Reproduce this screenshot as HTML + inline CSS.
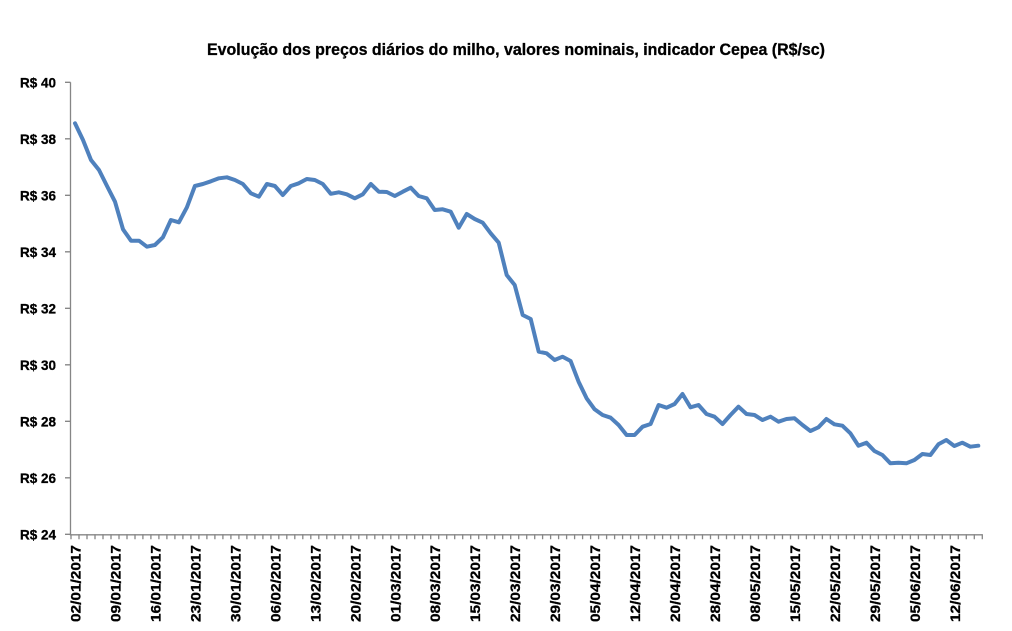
<!DOCTYPE html>
<html>
<head>
<meta charset="utf-8">
<style>
html,body{margin:0;padding:0;background:#fff;}
svg{display:block;}
text{font-family:"Liberation Sans",Arial,sans-serif;font-weight:bold;fill:#000;stroke:#000;stroke-width:0.3;}
</style>
</head>
<body>
<svg width="1012" height="631" viewBox="0 0 1012 631" xmlns="http://www.w3.org/2000/svg">
<rect width="1012" height="631" fill="#fff"/>
<text x="516" y="55" font-size="16.5" text-anchor="middle" textLength="618" lengthAdjust="spacingAndGlyphs">Evolução dos preços diários do milho, valores nominais, indicador Cepea (R$/sc)</text>

<!-- axes -->
<g stroke="#868686" stroke-width="1.3" fill="none">
<path d="M70.5 82.3 V534.8 H982.5"/>
<path d="M65 82.3 H70.5 M65 138.8 H70.5 M65 195.3 H70.5 M65 251.8 H70.5 M65 308.3 H70.5 M65 364.8 H70.5 M65 421.3 H70.5 M65 477.8 H70.5 M65 534.3 H70.5"/>
<path d="M71 534.3 v5 M79 534.3 v5 M87 534.3 v5 M95 534.3 v5 M103 534.3 v5 M111 534.3 v5 M119 534.3 v5 M127 534.3 v5 M135 534.3 v5 M142.9 534.3 v5 M150.9 534.3 v5 M158.9 534.3 v5 M166.9 534.3 v5 M174.9 534.3 v5 M182.9 534.3 v5 M190.9 534.3 v5 M198.9 534.3 v5 M206.9 534.3 v5 M214.9 534.3 v5 M222.9 534.3 v5 M230.9 534.3 v5 M238.9 534.3 v5 M246.9 534.3 v5 M254.9 534.3 v5 M262.9 534.3 v5 M270.9 534.3 v5 M278.8 534.3 v5 M286.8 534.3 v5 M294.8 534.3 v5 M302.8 534.3 v5 M310.8 534.3 v5 M318.8 534.3 v5 M326.8 534.3 v5 M334.8 534.3 v5 M342.8 534.3 v5 M350.8 534.3 v5 M358.8 534.3 v5 M366.8 534.3 v5 M374.8 534.3 v5 M382.8 534.3 v5 M390.8 534.3 v5 M398.8 534.3 v5 M406.7 534.3 v5 M414.7 534.3 v5 M422.7 534.3 v5 M430.7 534.3 v5 M438.7 534.3 v5 M446.7 534.3 v5 M454.7 534.3 v5 M462.7 534.3 v5 M470.7 534.3 v5 M478.7 534.3 v5 M486.7 534.3 v5 M494.7 534.3 v5 M502.7 534.3 v5 M510.7 534.3 v5 M518.7 534.3 v5 M526.7 534.3 v5 M534.7 534.3 v5 M542.6 534.3 v5 M550.6 534.3 v5 M558.6 534.3 v5 M566.6 534.3 v5 M574.6 534.3 v5 M582.6 534.3 v5 M590.6 534.3 v5 M598.6 534.3 v5 M606.6 534.3 v5 M614.6 534.3 v5 M622.6 534.3 v5 M630.6 534.3 v5 M638.6 534.3 v5 M646.6 534.3 v5 M654.6 534.3 v5 M662.6 534.3 v5 M670.6 534.3 v5 M678.5 534.3 v5 M686.5 534.3 v5 M694.5 534.3 v5 M702.5 534.3 v5 M710.5 534.3 v5 M718.5 534.3 v5 M726.5 534.3 v5 M734.5 534.3 v5 M742.5 534.3 v5 M750.5 534.3 v5 M758.5 534.3 v5 M766.5 534.3 v5 M774.5 534.3 v5 M782.5 534.3 v5 M790.5 534.3 v5 M798.5 534.3 v5 M806.4 534.3 v5 M814.4 534.3 v5 M822.4 534.3 v5 M830.4 534.3 v5 M838.4 534.3 v5 M846.4 534.3 v5 M854.4 534.3 v5 M862.4 534.3 v5 M870.4 534.3 v5 M878.4 534.3 v5 M886.4 534.3 v5 M894.4 534.3 v5 M902.4 534.3 v5 M910.4 534.3 v5 M918.4 534.3 v5 M926.4 534.3 v5 M934.4 534.3 v5 M942.3 534.3 v5 M950.3 534.3 v5 M958.3 534.3 v5 M966.3 534.3 v5 M974.3 534.3 v5 M982.3 534.3 v5"/>
</g>

<!-- y labels -->
<g font-size="14" text-anchor="end">
<text x="56" y="87.3" textLength="36" lengthAdjust="spacingAndGlyphs">R$ 40</text>
<text x="56" y="143.8" textLength="36" lengthAdjust="spacingAndGlyphs">R$ 38</text>
<text x="56" y="200.3" textLength="36" lengthAdjust="spacingAndGlyphs">R$ 36</text>
<text x="56" y="256.8" textLength="36" lengthAdjust="spacingAndGlyphs">R$ 34</text>
<text x="56" y="313.3" textLength="36" lengthAdjust="spacingAndGlyphs">R$ 32</text>
<text x="56" y="369.8" textLength="36" lengthAdjust="spacingAndGlyphs">R$ 30</text>
<text x="56" y="426.3" textLength="36" lengthAdjust="spacingAndGlyphs">R$ 28</text>
<text x="56" y="482.8" textLength="36" lengthAdjust="spacingAndGlyphs">R$ 26</text>
<text x="56" y="539.3" textLength="36" lengthAdjust="spacingAndGlyphs">R$ 24</text>
</g>

<!-- x labels -->
<g font-size="14" text-anchor="end">
<text transform="translate(80.5,545) rotate(-90)" textLength="77" lengthAdjust="spacingAndGlyphs">02/01/2017</text>
<text transform="translate(120.5,545) rotate(-90)" textLength="77" lengthAdjust="spacingAndGlyphs">09/01/2017</text>
<text transform="translate(160.4,545) rotate(-90)" textLength="77" lengthAdjust="spacingAndGlyphs">16/01/2017</text>
<text transform="translate(200.4,545) rotate(-90)" textLength="77" lengthAdjust="spacingAndGlyphs">23/01/2017</text>
<text transform="translate(240.4,545) rotate(-90)" textLength="77" lengthAdjust="spacingAndGlyphs">30/01/2017</text>
<text transform="translate(280.4,545) rotate(-90)" textLength="77" lengthAdjust="spacingAndGlyphs">06/02/2017</text>
<text transform="translate(320.3,545) rotate(-90)" textLength="77" lengthAdjust="spacingAndGlyphs">13/02/2017</text>
<text transform="translate(360.3,545) rotate(-90)" textLength="77" lengthAdjust="spacingAndGlyphs">20/02/2017</text>
<text transform="translate(400.3,545) rotate(-90)" textLength="77" lengthAdjust="spacingAndGlyphs">01/03/2017</text>
<text transform="translate(440.2,545) rotate(-90)" textLength="77" lengthAdjust="spacingAndGlyphs">08/03/2017</text>
<text transform="translate(480.2,545) rotate(-90)" textLength="77" lengthAdjust="spacingAndGlyphs">15/03/2017</text>
<text transform="translate(520.2,545) rotate(-90)" textLength="77" lengthAdjust="spacingAndGlyphs">22/03/2017</text>
<text transform="translate(560.1,545) rotate(-90)" textLength="77" lengthAdjust="spacingAndGlyphs">29/03/2017</text>
<text transform="translate(600.1,545) rotate(-90)" textLength="77" lengthAdjust="spacingAndGlyphs">05/04/2017</text>
<text transform="translate(640.1,545) rotate(-90)" textLength="77" lengthAdjust="spacingAndGlyphs">12/04/2017</text>
<text transform="translate(680.1,545) rotate(-90)" textLength="77" lengthAdjust="spacingAndGlyphs">20/04/2017</text>
<text transform="translate(720,545) rotate(-90)" textLength="77" lengthAdjust="spacingAndGlyphs">28/04/2017</text>
<text transform="translate(760,545) rotate(-90)" textLength="77" lengthAdjust="spacingAndGlyphs">08/05/2017</text>
<text transform="translate(800,545) rotate(-90)" textLength="77" lengthAdjust="spacingAndGlyphs">15/05/2017</text>
<text transform="translate(839.9,545) rotate(-90)" textLength="77" lengthAdjust="spacingAndGlyphs">22/05/2017</text>
<text transform="translate(879.9,545) rotate(-90)" textLength="77" lengthAdjust="spacingAndGlyphs">29/05/2017</text>
<text transform="translate(919.9,545) rotate(-90)" textLength="77" lengthAdjust="spacingAndGlyphs">05/06/2017</text>
<text transform="translate(959.8,545) rotate(-90)" textLength="77" lengthAdjust="spacingAndGlyphs">12/06/2017</text>
</g>

<!-- series -->
<polyline fill="none" stroke="#4F81BD" stroke-width="4" stroke-linejoin="round" stroke-linecap="round" points="
75,123.3 83,140 91,160 99,170 107,186 115,201.7 123,229.3 131,240.7 139,240.7 146.9,246.7
154.9,245 162.9,237.3 170.9,220 178.9,222.3 186.9,207.3 194.9,186 202.9,184 210.9,181.3 218.9,178.3 226.9,177.3
234.9,180 242.9,184 250.9,193.3 258.9,196.7 266.9,184 274.9,186 282.8,195 290.8,186 298.8,183.3 306.8,179
314.8,180 322.8,184 330.8,193.8 338.8,192.3 346.8,194.3 354.8,198.3 362.8,194.3 370.8,184 378.8,191.7 386.8,192
394.8,196 402.8,191.7 410.7,187.7 418.7,196 426.7,198.3 434.7,210 442.7,209.3 450.7,211.7 458.7,227.7 466.7,214
474.7,219 482.7,222.7 490.7,233.3 498.7,242.7 506.7,275 514.7,285 522.7,315 530.7,319 538.7,351.7 546.6,353.3
554.6,360 562.6,356.7 570.6,361 578.6,381.7 586.6,398.3 594.6,409.3 602.6,415 610.6,417.7 618.6,425 626.6,435
634.6,435 642.6,426.7 650.6,424 658.6,405 666.6,407.7 674.6,404 682.5,394 690.5,407.3 698.5,405 706.5,414
714.5,416.7 722.5,424 730.5,415 738.5,406.7 746.5,414 754.5,415 762.5,420 770.5,416.7 778.5,421.7 786.5,419
794.5,418.3 802.5,425 810.4,431 818.4,427.3 826.4,419 834.4,424.3 842.4,425.7 850.4,433.3 858.4,445.7 866.4,442.7
874.4,451 882.4,455 890.4,463.3 898.4,462.7 906.4,463.3 914.4,460 922.4,454 930.4,455 938.4,444.3 946.3,440
954.3,446 962.3,442.7 970.3,446.7 978.3,445.7"/>
</svg>
</body>
</html>
